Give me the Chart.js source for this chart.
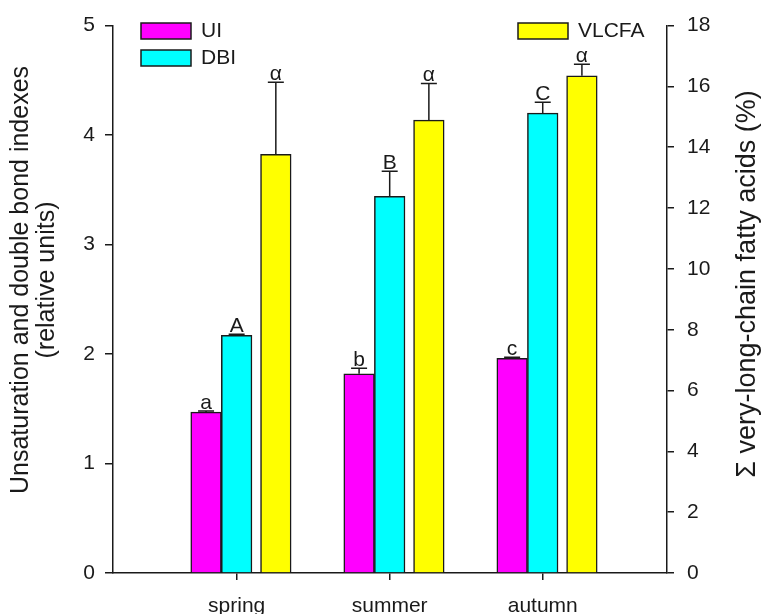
<!DOCTYPE html>
<html>
<head>
<meta charset="utf-8">
<script src="https://cdn.jsdelivr.net/npm/chart.js@4.4.1/dist/chart.umd.min.js"></script>
<style>
html, body { margin: 0; padding: 0; background: #fff; }
</style>
</head>
<body>
<canvas id="c" width="764" height="614"></canvas>
<script>
// values
const seasons = ['spring', 'summer', 'autumn'];
const uiValues = [1.47, 1.82, 1.96];
const uiErrors = [0.01, 0.05, 0.01];
const dbiValues = [2.17, 3.44, 4.20];
const dbiErrors = [0.01, 0.23, 0.10];
const vlcfaValues = [13.77, 14.89, 16.35];
const vlcfaErrors = [2.37, 1.21, 0.38];
const uiLetters = ['a', 'b', 'c'];
const dbiLetters = ['A', 'B', 'C'];
const vlcfaLetters = ['α', 'α', 'α'];

const FONT = "'Liberation Sans', Arial, sans-serif";
const INK = '#1a1a1a';

// bar offsets from the season tick (in category units)
const offsets = [-0.2, 0, 0.256];

function points(values, k) {
    return values.map((v, i) => ({ x: i + offsets[k], y: v }));
}

const data = {
    datasets: [{
        label: 'UI',
        data: points(uiValues, 0),
        errors: uiErrors,
        letters: uiLetters,
        backgroundColor: '#ff00ff',
        yAxisID: 'y',
    }, {
        label: 'DBI',
        data: points(dbiValues, 1),
        errors: dbiErrors,
        letters: dbiLetters,
        backgroundColor: '#00ffff',
        yAxisID: 'y',
    }, {
        label: 'VLCFA',
        data: points(vlcfaValues, 2),
        errors: vlcfaErrors,
        letters: vlcfaLetters,
        backgroundColor: '#ffff00',
        yAxisID: 'y1',
    }]
};

// error bars, letters, legend and axis titles
const decor = {
    id: 'decor',
    afterDatasetsDraw(chart) {
        const ctx = chart.ctx;
        ctx.save();
        ctx.strokeStyle = INK;
        ctx.fillStyle = INK;
        ctx.lineWidth = 1.5;
        chart.data.datasets.forEach((ds, d) => {
            const meta = chart.getDatasetMeta(d);
            const sc = chart.scales[ds.yAxisID];
            meta.data.forEach((bar, i) => {
                const top = sc.getPixelForValue(ds.data[i].y + ds.errors[i]);
                ctx.beginPath();
                ctx.moveTo(bar.x, bar.y);
                ctx.lineTo(bar.x, top);
                ctx.moveTo(bar.x - 8, top);
                ctx.lineTo(bar.x + 8, top);
                ctx.stroke();
                ctx.font = '21px ' + FONT;
                ctx.textAlign = 'center';
                ctx.textBaseline = 'alphabetic';
                ctx.fillText(ds.letters[i], bar.x, top - 2);
            });
        });

        // legend
        const spots = [[141, 23], [141, 50], [518, 23]];
        chart.data.datasets.forEach((ds, d) => {
            const [lx, ly] = spots[d];
            ctx.fillStyle = ds.backgroundColor;
            ctx.fillRect(lx, ly, 50, 16);
            ctx.strokeRect(lx, ly, 50, 16);
            ctx.fillStyle = INK;
            ctx.font = '21px ' + FONT;
            ctx.textAlign = 'left';
            ctx.textBaseline = 'middle';
            ctx.fillText(ds.label, lx + 60, ly + 8);
        });

        // axis titles, both read bottom to top
        ctx.textAlign = 'center';
        ctx.textBaseline = 'alphabetic';
        ctx.font = '25px ' + FONT;
        ctx.save();
        ctx.translate(0, 280);
        ctx.rotate(-Math.PI / 2);
        ctx.fillText('Unsaturation and double bond indexes', 0, 28);
        ctx.fillText('(relative units)', 0, 54);
        ctx.restore();
        ctx.font = '27px ' + FONT;
        ctx.save();
        ctx.translate(755, 284);
        ctx.rotate(-Math.PI / 2);
        ctx.fillText('Σ very-long-chain fatty acids (%)', 0, 0);
        ctx.restore();
        ctx.restore();
    }
};

const axisLine = { display: true, color: INK, width: 1.5 };
const tickFont = { family: FONT, size: 21 };

const config = {
    type: 'bar',
    data: data,
    options: {
        responsive: false,
        animation: false,
        layout: { padding: { top: 20, left: 0, right: 0, bottom: 0 } },
        datasets: {
            bar: {
                grouped: false,
                categoryPercentage: 1,
                barPercentage: 1,
                borderColor: INK,
                borderWidth: 1.5,
            }
        },
        plugins: {
            legend: { display: false },
            tooltip: { enabled: false },
        },
        scales: {
            x: {
                type: 'linear',
                min: -0.808,
                max: 2.812,
                offset: false,
                afterBuildTicks: s => { s.ticks = seasons.map((_, i) => ({ value: i })); },
                afterFit: s => { s.height = 41; },
                ticks: {
                    callback: v => seasons[v],
                    autoSkip: false,
                    maxRotation: 0,
                    padding: 14,
                    color: INK,
                    font: tickFont,
                },
                grid: { offset: false, drawOnChartArea: false, drawTicks: true, tickLength: 7, color: INK, lineWidth: 1.5 },
                border: axisLine,
            },
            y: {
                position: 'left',
                min: 0,
                max: 5,
                afterFit: s => { s.width = 113; },
                ticks: { stepSize: 1, padding: 10, color: INK, font: tickFont },
                grid: { drawOnChartArea: false, drawTicks: true, tickLength: 8, color: INK, lineWidth: 1.5 },
                border: axisLine,
            },
            y1: {
                position: 'right',
                min: 0,
                max: 18,
                afterFit: s => { s.width = 97; },
                ticks: { stepSize: 2, padding: 13, color: INK, font: tickFont },
                grid: { drawOnChartArea: false, drawTicks: true, tickLength: 7, color: INK, lineWidth: 1.5 },
                border: axisLine,
            }
        }
    },
    plugins: [decor]
};

new Chart(document.getElementById('c'), config);
</script>
</body>
</html>
